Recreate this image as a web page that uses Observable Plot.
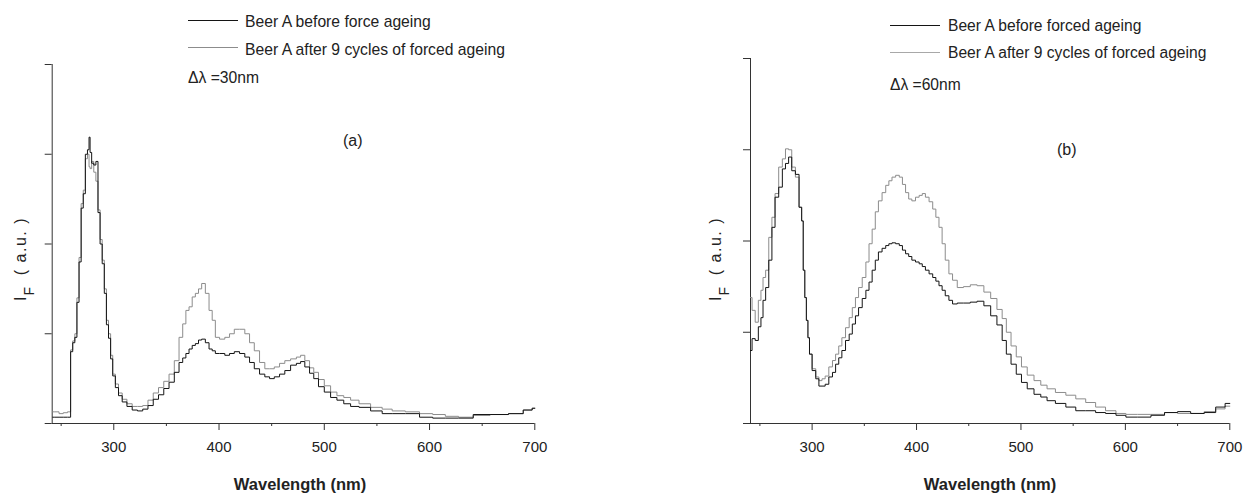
<!DOCTYPE html>
<html><head><meta charset="utf-8">
<script src="https://cdn.jsdelivr.net/npm/d3@7"></script>
<script src="https://cdn.jsdelivr.net/npm/@observablehq/plot@0.6"></script>
<style>
body{margin:0;background:#fff;}
#wrap{position:relative;width:1245px;height:493px;overflow:hidden;background:#fff;font-family:"Liberation Sans",Arial,sans-serif;color:#222;}
.panel{position:absolute;top:0;}
.t{position:absolute;white-space:nowrap;font-size:16px;line-height:16px;}
.lg{position:absolute;height:0;width:50px;}
.ylab{position:absolute;white-space:nowrap;line-height:16px;transform:translate(-50%,-50%) rotate(-90deg);}
</style></head><body><div id="wrap"></div>
<script>
// ---------- data ----------
const waveA = [242,246,250,254,258, 260,262,264,266,268, 270,272,274,276,277, 278,280,282,284,286,
  288,290,292,294,296, 298,300,303,306,310, 315,320,325,330,335, 340,345,350,355,360,
  364,367,370,373,376, 379,382,385,389,392, 395,398,403,408,412, 417,422,427,431,436,
  441,446,450,455,460, 465,471,476,479,484, 488,492,497,503,509, 515,522,528,538,550,
  560,569,585,596,610, 620,635,648,667,683, 695,700];
const beforeA = [0.07,0.07,0.07,0.07,0.07, 0.80,0.90,0.96,1.35,1.80, 2.40,2.56,3.00,3.05,3.19, 3.02,2.90,2.88,2.92,2.35,
  2.00,1.78,1.45,1.10,0.95, 0.72,0.53,0.40,0.31,0.24, 0.19,0.15,0.14,0.16,0.20, 0.27,0.32,0.39,0.46,0.57,
  0.68,0.73,0.78,0.83,0.87, 0.89,0.93,0.94,0.90,0.83, 0.81,0.78,0.78,0.76,0.78, 0.80,0.78,0.74,0.68,0.61,
  0.55,0.52,0.50,0.52,0.55, 0.59,0.65,0.67,0.69,0.63, 0.56,0.50,0.41,0.35,0.29, 0.26,0.22,0.19,0.18,0.14,
  0.11,0.11,0.11,0.07,0.06, 0.06,0.06,0.10,0.10,0.11, 0.15,0.17];
const afterA = [0.13,0.13,0.11,0.12,0.13, 0.82,0.92,1.00,1.40,1.85, 2.45,2.60,2.95,3.00,2.86, 2.84,2.92,2.80,2.70,2.38,
  2.05,1.82,1.50,1.15,1.00, 0.76,0.55,0.44,0.34,0.27, 0.22,0.19,0.19,0.20,0.26, 0.34,0.40,0.47,0.55,0.70,
  0.96,1.11,1.26,1.30,1.41, 1.45,1.50,1.56,1.45,1.26, 1.15,0.96,0.94,0.96,1.00, 1.05,1.05,1.00,0.90,0.81,
  0.68,0.61,0.61,0.63,0.67, 0.70,0.72,0.74,0.76,0.70, 0.62,0.57,0.49,0.42,0.35, 0.31,0.29,0.26,0.22,0.18,
  0.16,0.14,0.13,0.11,0.10, 0.08,0.07,0.09,0.10,0.11, 0.15,0.17];

const waveB = [241,244,247,250,252, 254,257,260,263,266, 270,273,276,279,282, 286,289,291,292,294,
  295,297,298,302,305, 308,311,314,318,321, 324,327,330,334,337, 340,343,346,350,353,
  356,359,362,365,369, 372,375,378,382,385, 388,391,394,397,401, 404,407,410,414,417,
  420,423,426,429,433, 436,442,448,455,461, 468,474,480,484,488, 493,498,503,509,516,
  522,528,538,548,557, 567,576,586,596,605, 618,631,644,656,669, 682,691,700];
const beforeB = [0.80,0.93,0.91,1.06,1.16, 1.35,1.49,1.79,2.15,2.48, 2.59,2.79,2.85,2.92,2.77, 2.73,2.37,2.22,1.68,1.38,
  1.13,0.94,0.76,0.58,0.49, 0.41,0.41,0.43,0.51,0.56, 0.65,0.72,0.80,0.91,0.98, 1.09,1.18,1.27,1.37,1.46,
  1.55,1.68,1.79,1.88,1.92, 1.95,1.97,1.98,1.97,1.95, 1.90,1.86,1.83,1.79,1.77, 1.75,1.72,1.68,1.64,1.60,
  1.56,1.51,1.46,1.40,1.35, 1.31,1.32,1.32,1.33,1.34, 1.29,1.18,1.08,0.91,0.76, 0.65,0.54,0.45,0.38,0.32,
  0.29,0.25,0.22,0.18,0.14, 0.14,0.12,0.11,0.09,0.07, 0.07,0.09,0.12,0.13,0.11, 0.12,0.18,0.22];
const afterB = [1.38,1.24,1.11,1.35,1.46, 1.60,1.68,2.04,2.26,2.52, 2.81,2.90,3.01,3.00,2.81, 2.70,2.37,2.22,1.68,1.38,
  1.13,0.94,0.76,0.60,0.51, 0.47,0.49,0.52,0.62,0.69, 0.76,0.85,0.94,1.05,1.16, 1.27,1.38,1.49,1.60,1.77,
  1.97,2.13,2.32,2.44,2.53, 2.61,2.66,2.70,2.72,2.70, 2.62,2.53,2.46,2.44,2.48, 2.50,2.52,2.48,2.43,2.35,
  2.26,2.15,1.97,1.79,1.64, 1.57,1.49,1.50,1.52,1.51, 1.44,1.37,1.25,1.15,1.00, 0.85,0.73,0.62,0.53,0.47,
  0.42,0.38,0.34,0.31,0.27, 0.23,0.18,0.14,0.11,0.10, 0.10,0.10,0.12,0.11,0.11, 0.13,0.16,0.19];

const majorTicks = [300, 400, 500, 600, 700];
const minorTicks = [250, 350, 450, 550, 650];
const yTicks = [0, 1, 2, 3, 4];
const legendA = ["Beer A before force ageing", "Beer A after 9 cycles of forced ageing"];
const legendB = ["Beer A before forced ageing", "Beer A after 9 cycles of forced ageing"];
const noteA = "\u0394\u03bb =30nm", noteB = "\u0394\u03bb =60nm";
const tagA = "(a)", tagB = "(b)";
const xTitle = "Wavelength (nm)";
const colors = {before: "#141414", after: "#8c8c8c"};

// ---------- drawing ----------
const wrap = document.getElementById("wrap");
const font = '"Liberation Sans", Arial, sans-serif';

function panel(cfg) {
  const before = cfg.wave.map((x, i) => ({x, y: cfg.before[i]}));
  const after = cfg.wave.map((x, i) => ({x, y: cfg.after[i]}));
  const svg = Plot.plot({
    width: cfg.width, height: 493,
    marginLeft: cfg.ml, marginRight: cfg.mr, marginTop: cfg.mt, marginBottom: 70,
    x: {domain: cfg.xDomain},
    y: {domain: [0, 4]},
    style: {fontFamily: font, fontSize: "15px", color: "#222", background: "transparent", overflow: "visible"},
    marks: [
      Plot.ruleX([cfg.xDomain[0]], {stroke: "#333", strokeWidth: 1}),
      Plot.ruleY([0], {stroke: "#333", strokeWidth: 1}),
      Plot.axisX(majorTicks, {tickSize: 7, tickPadding: 11, label: null, stroke: "#333", fill: "#222", fontSize: 15}),
      Plot.axisX(minorTicks, {tickSize: 3, tickFormat: () => "", label: null, stroke: "#333"}),
      Plot.axisY(yTicks, {tickSize: 7, tickFormat: () => "", label: null, stroke: "#333"}),
      Plot.line(after, {x: "x", y: "y", curve: "step", stroke: colors.after, strokeWidth: 1}),
      Plot.line(before, {x: "x", y: "y", curve: "step", stroke: colors.before, strokeWidth: 1})
    ]
  });
  svg.classList.add("panel");
  svg.style.left = cfg.left + "px";
  wrap.appendChild(svg);
}

panel({wave: waveA, before: beforeA, after: afterA, width: 620, left: 0, ml: 51.7, mr: 85.7, mt: 64, xDomain: [241.5, 700]});
panel({wave: waveB, before: beforeB, after: afterB, width: 625, left: 620, ml: 130, mr: 15.7, mt: 58, xDomain: [241, 700]});

function text(str, x, y, extra) {
  const d = document.createElement("div");
  d.className = "t";
  d.textContent = str;
  d.style.left = x + "px"; d.style.top = y + "px";
  if (extra) Object.assign(d.style, extra);
  wrap.appendChild(d);
  return d;
}
function legLine(x, y, color, w) {
  const d = document.createElement("div");
  d.className = "lg";
  d.style.left = x + "px"; d.style.top = y + "px";
  d.style.borderTop = w + "px solid " + color;
  wrap.appendChild(d);
}
function ylab(cx, cy) {
  const d = document.createElement("div");
  d.className = "ylab";
  d.style.left = cx + "px"; d.style.top = cy + "px";
  d.innerHTML = '<span style="font-size:16px">I</span><span style="font-size:14px;position:relative;top:8px;margin-left:1px">F</span>' +
    '<span style="font-size:16px;letter-spacing:1.5px">&nbsp; ( a.u. )</span>';
  wrap.appendChild(d);
}

// panel A overlays
legLine(188, 20, colors.before, 1.3);
text(legendA[0], 245, 14.2, {fontSize: "15.7px"});
legLine(188, 46.5, colors.after, 1);
text(legendA[1], 245, 41.5, {fontSize: "15.7px"});
text(noteA, 188, 69.5, {fontSize: "15.7px"});
text(tagA, 343, 132.5);
text(xTitle, 300, 475.5, {fontWeight: "bold", fontSize: "16.5px", transform: "translateX(-50%)"});
ylab(21, 259);

// panel B overlays
legLine(890, 24.5, colors.before, 1.3);
text(legendB[0], 948, 18, {fontSize: "15.6px"});
legLine(890, 51.5, "#a8a8a8", 1.3);
text(legendB[1], 948, 44.8, {fontSize: "15.6px"});
text(noteB, 890, 76.5, {fontSize: "15.6px"});
text(tagB, 1057, 141.5);
text(xTitle, 990, 475.5, {fontWeight: "bold", fontSize: "16.5px", transform: "translateX(-50%)"});
ylab(716, 259);
</script></body></html>
